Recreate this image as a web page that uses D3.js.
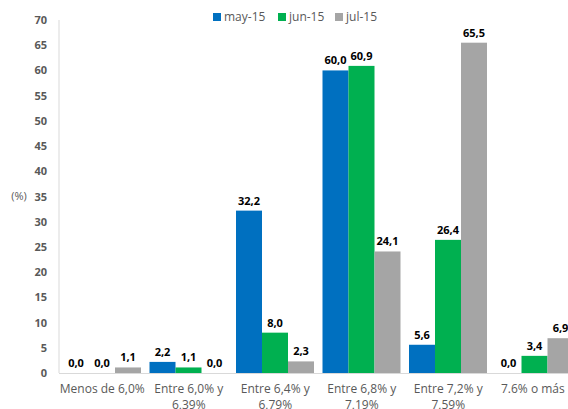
<!DOCTYPE html>
<html>
<head>
<meta charset="utf-8">
<script src="https://cdn.jsdelivr.net/npm/d3@7"></script>
<style>
  body { margin: 0; background: #fff; }
  svg { display: block; overflow: hidden; }
</style>
</head>
<body>
<div class="chart-cont"></div>
<script>
var categories = ["Menos de 6,0%", "Entre 6,0% y 6,39%", "Entre 6,4% y 6,79%", "Entre 6,8% y 7,19%", "Entre 7,2% y 7,59%", "7.6% o más"];
var seriesNames = ["may-15", "jun-15", "jul-15"];
var may15 = [0.0, 2.2, 32.2, 60.0, 5.6, 0.0];
var jun15 = [0.0, 1.1, 8.0, 60.9, 26.4, 3.4];
var jul15 = [1.1, 0.0, 2.3, 24.1, 65.5, 6.9];
var yTicks = [0, 5, 10, 15, 20, 25, 30, 35, 40, 45, 50, 55, 60, 65, 70];
var colors = ["#0070C0", "#00B050", "#A5A5A5"];

var w = 568, h = 409;
var font = "'Open Sans', 'DejaVu Sans', sans-serif";

var svg = d3.select(".chart-cont").append("svg")
    .attr("width", w)
    .attr("height", h);

var x0 = d3.scaleBand().domain(categories).range([59, 578]).paddingInner(0).paddingOuter(0);
var x1 = d3.scaleBand().domain(seriesNames).range([4, x0.bandwidth() - 4.5]).padding(0);
var y = d3.scaleLinear().domain([0, 70]).range([373, 20]);

var data = [];
categories.forEach(function(c, i) {
    [may15, jun15, jul15].forEach(function(s, j) {
        data.push({cat: c, series: seriesNames[j], value: s[i], color: colors[j]});
    });
});

// axis lines
svg.append("line")
    .attr("x1", 59).attr("x2", 59).attr("y1", 20).attr("y2", 373)
    .attr("stroke", "#d9d9d9").attr("stroke-width", 1);
svg.append("line")
    .attr("x1", 59).attr("x2", w).attr("y1", 373.5).attr("y2", 373.5)
    .attr("stroke", "#d9d9d9").attr("stroke-width", 1);

// y axis
var yAxis = d3.axisLeft(y).tickValues(yTicks).tickSize(0).tickPadding(0);
var gy = svg.append("g").attr("transform", "translate(47,0)").call(yAxis);
gy.select(".domain").remove();
gy.selectAll("text")
    .attr("fill", "#595959")
    .style("font-family", font)
    .style("font-size", "11px")
    .style("font-weight", "bold");

svg.append("text")
    .attr("x", 19).attr("y", y(35))
    .attr("dy", "0.32em")
    .attr("text-anchor", "middle")
    .attr("fill", "#595959")
    .style("font-family", font)
    .style("font-size", "11px")
    .text("(%)");

// bars
var groups = svg.append("g").selectAll("g")
    .data(data)
    .enter().append("g")
    .attr("transform", function(d) { return "translate(" + (x0(d.cat) + x1(d.series)) + ",0)"; });

groups.append("rect")
    .attr("x", 0)
    .attr("y", function(d) { return y(d.value); })
    .attr("width", x1.bandwidth())
    .attr("height", function(d) { return y(0) - y(d.value); })
    .attr("fill", function(d) { return d.color; });

groups.append("text")
    .attr("x", x1.bandwidth() / 2)
    .attr("y", function(d) { return y(d.value) - 6; })
    .attr("text-anchor", "middle")
    .attr("fill", "#000")
    .style("font-family", font)
    .style("font-size", "11px")
    .style("font-weight", "bold")
    .text(function(d) { return d.value.toFixed(1).replace(".", ","); });

// category labels, wrapped after "y"
var catG = svg.append("g");
categories.forEach(function(c) {
    var k = c.indexOf(" y ");
    var parts = k > 0 ? [c.slice(0, k + 2), c.slice(k + 3)] : [c];
    var cx = x0(c) + x0.bandwidth() / 2;
    var shift = 0;
    parts.forEach(function(p, i) {
        var t = catG.append("text")
            .attr("x", cx)
            .attr("y", 393 + i * 16)
            .attr("text-anchor", "middle")
            .attr("fill", "#595959")
            .style("font-family", font)
            .style("font-size", "12px")
            .text(p);
        // keep label inside the chart like the original
        var bb = t.node().getBBox();
        if (i === 0 && bb.x + bb.width > w - 3) shift = bb.x + bb.width - (w - 3);
        t.attr("x", cx - shift);
    });
});

// legend
var legend = svg.append("g").selectAll("g")
    .data(seriesNames)
    .enter().append("g")
    .attr("transform", function(d, i) { return "translate(" + [213, 278, 335][i] + ",17)"; });

legend.append("rect")
    .attr("x", 0).attr("y", -4)
    .attr("width", 8).attr("height", 8)
    .attr("fill", function(d, i) { return colors[i]; });

legend.append("text")
    .attr("x", 11)
    .attr("dy", "0.35em")
    .attr("fill", "#595959")
    .style("font-family", font)
    .style("font-size", "12px")
    .text(function(d) { return d; });
</script>
</body>
</html>
